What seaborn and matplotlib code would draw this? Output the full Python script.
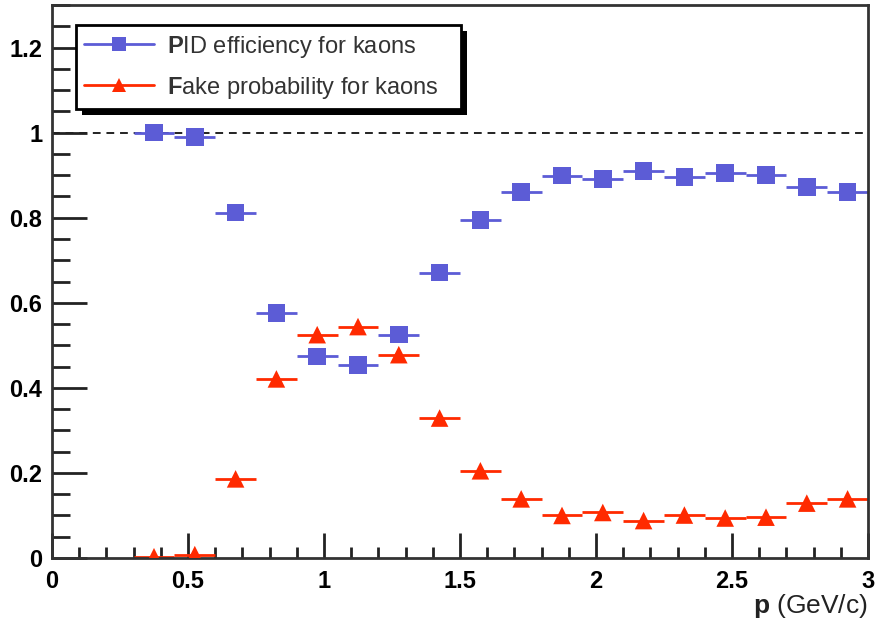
import matplotlib
matplotlib.use("Agg")
import matplotlib.pyplot as plt
from matplotlib.lines import Line2D
from matplotlib.patches import Rectangle
from matplotlib.ticker import MultipleLocator, FormatStrFormatter
import numpy as np
import pandas as pd
import seaborn as sns

# Momentum bins (GeV/c): centres and half-width
p_center = [0.375, 0.525, 0.675, 0.825, 0.975, 1.125, 1.275, 1.425, 1.575,
            1.725, 1.875, 2.025, 2.175, 2.325, 2.475, 2.625, 2.775, 2.925]
p_halfwidth = 0.075

# Kaon identification efficiency per bin
pid_eff = [1.000, 0.990, 0.812, 0.576, 0.474, 0.454, 0.525, 0.671, 0.795,
           0.860, 0.899, 0.891, 0.910, 0.896, 0.905, 0.900, 0.872, 0.860]
# Probability of faking a kaon per bin
fake_prob = [0.003, 0.008, 0.186, 0.421, 0.525, 0.544, 0.478, 0.329, 0.205,
             0.139, 0.100, 0.107, 0.088, 0.101, 0.094, 0.096, 0.129, 0.139]

series_names = ["PID efficiency for kaons", "Fake probability for kaons"]
legend_labels = [r"$\mathbf{P}$ID efficiency for kaons",
                 r"$\mathbf{F}$ake probability for kaons"]

BLUE = "#5c5cd6"
RED = "#ff2a00"

sns.set_style("white")
plt.rcParams["font.family"] = ["Liberation Sans", "DejaVu Sans"]
plt.rcParams["mathtext.fontset"] = "custom"
plt.rcParams["mathtext.rm"] = "Liberation Sans"
plt.rcParams["mathtext.bf"] = "Liberation Sans:bold"

df = pd.DataFrame({
    "p": p_center * 2,
    "value": pid_eff + fake_prob,
    "series": [series_names[0]] * len(p_center) + [series_names[1]] * len(p_center),
})

fig = plt.figure(figsize=(8.77, 6.25), dpi=100)
ax = fig.add_axes([52 / 877, 67 / 625, 816 / 877, 553 / 625])

# Horizontal bars show the bin widths
for name, color in zip(series_names, [BLUE, RED]):
    sub = df[df["series"] == name]
    ax.hlines(sub["value"], sub["p"] - p_halfwidth, sub["p"] + p_halfwidth,
              colors=color, linewidth=2, zorder=2)

sns.scatterplot(data=df, x="p", y="value", hue="series", style="series",
                palette={series_names[0]: BLUE, series_names[1]: RED},
                markers={series_names[0]: "s", series_names[1]: "^"},
                s=160, linewidth=0, legend=False, zorder=3, ax=ax)

ax.axhline(1.0, color="#222222", linestyle=(0, (4, 3)), linewidth=1.4, zorder=1)

ax.set_xlim(0, 3)
ax.set_ylim(0, 1.3)
ax.xaxis.set_major_locator(MultipleLocator(0.5))
ax.xaxis.set_minor_locator(MultipleLocator(0.1))
ax.yaxis.set_major_locator(MultipleLocator(0.2))
ax.yaxis.set_minor_locator(MultipleLocator(0.05))
ax.xaxis.set_major_formatter(FormatStrFormatter("%g"))
ax.yaxis.set_major_formatter(FormatStrFormatter("%g"))

ax.tick_params(which="both", bottom=True, left=True, top=False, right=False)
ax.tick_params(axis="x", which="major", direction="in", length=18, width=2,
               pad=9, labelsize=17, colors="#222222")
ax.tick_params(axis="x", which="minor", direction="in", length=8, width=2,
               colors="#222222")
ax.tick_params(axis="y", which="major", direction="in", length=25, width=2,
               pad=7, labelsize=17, colors="#222222")
ax.tick_params(axis="y", which="minor", direction="in", length=13, width=2,
               colors="#222222")
for lab in ax.get_xticklabels() + ax.get_yticklabels():
    lab.set_fontweight("bold")
    lab.set_color("black")

for sp in ax.spines.values():
    sp.set_linewidth(2)
    sp.set_color("#333333")

ax.set_ylabel("")
ax.set_xlabel(r"$\mathbf{p}$ (GeV/c)", fontsize=19, loc="right", color="#222222")
ax.xaxis.set_label_coords(1.0, -0.062)

handles = [
    Line2D([0], [0], color=BLUE, marker="s", markersize=10, linewidth=2,
           markeredgewidth=0),
    Line2D([0], [0], color=RED, marker="^", markersize=10, linewidth=2,
           markeredgewidth=0),
]
leg = ax.legend(handles, legend_labels, loc="upper left",
                bbox_to_anchor=(0.0294, 0.5, 0.4718, 0.4638), mode="expand",
                fontsize=17, frameon=True, fancybox=False, shadow=False,
                framealpha=1, handlelength=2.95, handletextpad=0.55,
                borderpad=0.36, labelspacing=0.64, borderaxespad=0,
                labelcolor="#333333")
leg.get_frame().set_edgecolor("black")
leg.get_frame().set_linewidth(2)
leg.get_frame().set_facecolor("white")
leg.set_zorder(10)

# Solid black drop shadow behind the legend box
fig.canvas.draw()
bb = leg.get_window_extent().transformed(fig.transFigure.inverted())
dx, dy = 6 / 877, 6 / 625
shadow = Rectangle((bb.x0 + dx, bb.y0 - dy), bb.width, bb.height,
                   transform=fig.transFigure, facecolor="black",
                   edgecolor="none", zorder=9)
ax.add_artist(shadow)
shadow.set_clip_on(False)

fig.savefig("out.png", dpi=100)
